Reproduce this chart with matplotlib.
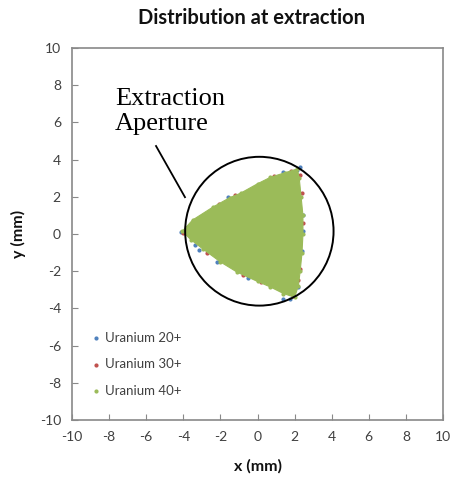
import matplotlib.pyplot as plt
from matplotlib.patches import Polygon, Circle

# outline of the 40+ beam footprint at the extraction plane (mm)
u40_x = [-4.05, -3.5, -2.4, -1.5, -0.9, 0.0, 0.7, 1.5, 2.15,
         2.25, 2.35, 2.45, 2.45, 2.4, 2.3, 2.2, 2.0,
         1.4, 0.7, 0.0, -1.1, -2.0, -2.95, -3.6]
u40_y = [0.15, 0.75, 1.45, 1.95, 2.2, 2.7, 3.05, 3.3, 3.5,
         3.0, 2.0, 1.0, 0.0, -1.0, -2.0, -2.8, -3.4,
         -3.2, -2.85, -2.55, -2.05, -1.5, -0.8, -0.3]

# edge particles of the 20+ and 30+ beams that show past the 40+ footprint
u20_x = [-4.15, -3.37, -3.16, -1.6, -0.41, 1.4, 2.13, 2.3,
         2.45, 2.43, 2.42, 2.18, 1.75, 1.37, -0.51, -2.2]
u20_y = [0.1, -0.6, -0.87, 2.0, 2.31, 3.33, 3.44, 3.58,
         1.02, 0.17, -0.9, -2.86, -3.5, -3.5, -2.37, -1.52]
u30_x = [-4.02, -3.0, -2.1, -1.2, 0.9, 1.8, 2.29, 2.4,
         2.46, 2.3, 2.18, 1.9, 0.2, -0.8, -2.7]
u30_y = [0.05, 0.98, 1.6, 2.08, 3.12, 3.38, 3.17, 2.2,
         0.6, -1.9, -2.48, -3.35, -2.6, -2.2, -1.0]

series = ["Uranium 20+", "Uranium 30+", "Uranium 40+"]
colors = ["#4F81BD", "#C0504D", "#9BBB59"]
ticks = list(range(-10, 11, 2))

plt.rcParams["font.family"] = ["Lato", "DejaVu Sans"]
plt.rcParams["axes.unicode_minus"] = False

fig = plt.figure(figsize=(4.51, 4.83), dpi=100)
ax = fig.add_axes([72 / 451, 1 - 420 / 483, 371 / 451, 372 / 483])

ax.scatter(u20_x, u20_y, s=4, color=colors[0], label=series[0], zorder=2)
ax.scatter(u30_x, u30_y, s=4, color=colors[1], label=series[1], zorder=3)
ax.add_patch(Polygon(list(zip(u40_x, u40_y)), closed=True,
                     facecolor=colors[2], edgecolor=colors[2], lw=0.8, zorder=4))
ax.scatter(u40_x, u40_y, s=4, color=colors[2], label=series[2], zorder=4)

# aperture outline and its callout
ax.add_patch(Circle((0.1, 0.15), 4.0, fill=False, edgecolor="black", lw=1.4, zorder=5))
ax.plot([-5.47, -3.91], [4.73, 1.98], color="black", lw=1.3, zorder=5)
ax.text(-7.68, 5.59, "Extraction\nAperture", family="Liberation Serif", fontsize=19,
        ha="left", va="baseline", linespacing=1.17)

ax.set_xlim(-10, 10)
ax.set_ylim(-10, 10)
ax.set_xticks(ticks)
ax.set_yticks(ticks)
ax.tick_params(direction="in", length=4, width=0.8, color="#898989",
               labelsize=10, labelcolor="#404040", pad=8)
for sp in ax.spines.values():
    sp.set_color("#898989")
    sp.set_linewidth(1.2)

fig.text(251 / 451, 1 - 18 / 483, "Distribution at extraction", ha="center", va="center",
         fontsize=14.5, fontweight="bold", color="#111111")
fig.text(258 / 451, 1 - 466 / 483, "x (mm)", ha="center", va="center",
         fontsize=11.5, fontweight="bold", color="#111111")
fig.text(18 / 451, 1 - 234 / 483, "y (mm)", ha="center", va="center", rotation=90,
         fontsize=11.5, fontweight="bold", color="#111111")

leg = ax.legend(loc="upper left", bbox_to_anchor=(0.035, 0.252), frameon=False,
                fontsize=9.5, handlelength=0.8, handletextpad=0.3, labelspacing=1.1,
                markerscale=1.0, borderaxespad=0)
for t in leg.get_texts():
    t.set_color("#404040")

fig.savefig("out.png", dpi=100)
